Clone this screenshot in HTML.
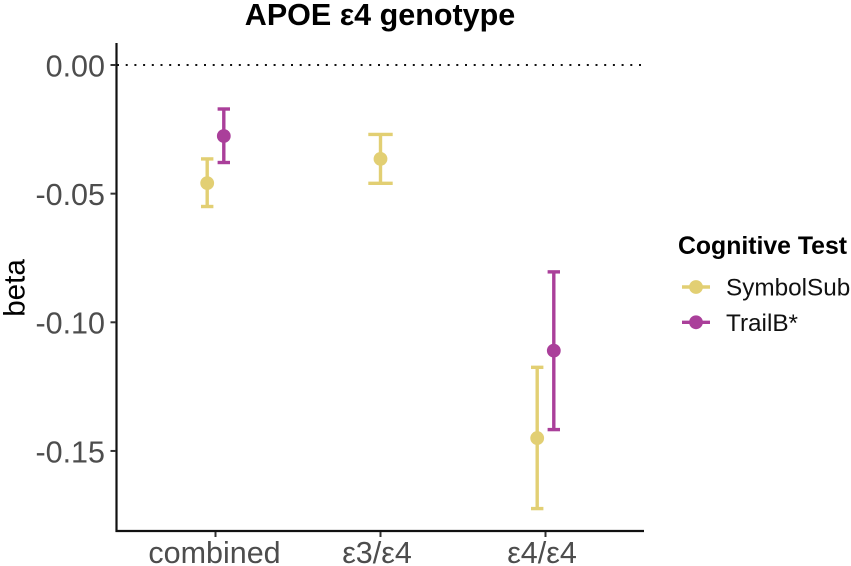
<!DOCTYPE html>
<html>
<head>
<meta charset="utf-8">
<style>
html,body{margin:0;padding:0;background:#fff;width:851px;height:566px;overflow:hidden}
svg{display:block}
text{font-family:"Liberation Sans",sans-serif}
</style>
</head>
<body>
<svg id="chart" width="851" height="566" viewBox="0 0 851 566" xmlns="http://www.w3.org/2000/svg">
<text x="380" y="25" font-size="30.5" font-weight="700" text-anchor="middle" fill="#000">APOE ε4 genotype</text>
<text transform="translate(24.5,288) rotate(-90)" font-size="29.6" text-anchor="middle" fill="#000">beta</text>
<text x="678" y="254" font-size="24.8" font-weight="700" fill="#000">Cognitive Test</text>
<g id="legend"></g>
<g id="plot"></g>
</svg>
<script>
const categories = ["combined", "ε3/ε4", "ε4/ε4"];
const yTicks = [0, -0.05, -0.10, -0.15];
const yTickLabels = ["0.00", "-0.05", "-0.10", "-0.15"];
const seriesNames = ["SymbolSub", "TrailB*"];
const symbolBeta = [-0.0459, -0.0365, -0.1450];
const symbolLow = [-0.0550, -0.0460, -0.1724];
const symbolHigh = [-0.0365, -0.0270, -0.1175];
const trailBeta = [-0.0276, null, -0.1110];
const trailLow = [-0.0379, null, -0.1417];
const trailHigh = [-0.0171, null, -0.0804];

const NS = "http://www.w3.org/2000/svg";
const plot = document.getElementById("plot");
const legend = document.getElementById("legend");
const COLORS = ["#e2cf73", "#aa3f9a"];

function yScale(v) { return 65 + (0 - v) * 2573; }
function xScale(i) { return 215.5 + i * 165; }

function mk(parent, tag, attrs) {
  const el = document.createElementNS(NS, tag);
  for (const k in attrs) el.setAttribute(k, attrs[k]);
  parent.appendChild(el);
  return el;
}

const refLine = mk(plot, "line", {x1: 117, x2: 642, y1: yScale(0), y2: yScale(0), stroke: "#111", "stroke-width": 2, "stroke-dasharray": "2 6.7"});



const yAxis = mk(plot, "line", {x1: 116.5, x2: 116.5, y1: 43, y2: 532, stroke: "#111", "stroke-width": 2.2});



const xAxis = mk(plot, "line", {x1: 115.5, x2: 644, y1: 531, y2: 531, stroke: "#111", "stroke-width": 2.2});



yTicks.forEach(function (t, i) {
  const tick = mk(plot, "line", {x1: 110.5, x2: 116, y1: yScale(t), y2: yScale(t), stroke: "#333", "stroke-width": 2});
  
  
  const label = mk(plot, "text", {x: 105, y: yScale(t) + 11.3, "font-size": 30.5, "text-anchor": "end", fill: "#4d4d4d"});
  
  
  label.textContent = yTickLabels[i];
});

categories.forEach(function (c, i) {
  const tick = mk(plot, "line", {x1: xScale(i), x2: xScale(i), y1: 532, y2: 537, stroke: "#333", "stroke-width": 2});
  
  
  const nudge = c.charAt(0) === "ε" ? -3.5 : -1;
  const label = mk(plot, "text", {x: xScale(i) + nudge, y: 563, "font-size": 30.5, "text-anchor": "middle", fill: "#4d4d4d"});
  
  
  label.textContent = c;
});

function drawMark(i, beta, low, high, color, offset, capHalf) {
  const x = xScale(i) + offset;
  const g = mk(plot, "g", {});
  
  
  mk(g, "line", {x1: x, x2: x, y1: yScale(high), y2: yScale(low), stroke: color, "stroke-width": 3.4});
  mk(g, "line", {x1: x - capHalf, x2: x + capHalf, y1: yScale(high), y2: yScale(high), stroke: color, "stroke-width": 3.4});
  mk(g, "line", {x1: x - capHalf, x2: x + capHalf, y1: yScale(low), y2: yScale(low), stroke: color, "stroke-width": 3.4});
  mk(g, "circle", {cx: x, cy: yScale(beta), r: 6.9, fill: color});
}

categories.forEach(function (c, i) {
  const paired = trailBeta[i] !== null;
  const offset = paired ? 8.3 : 0;
  const capHalf = paired ? 6.2 : 12.2;
  drawMark(i, symbolBeta[i], symbolLow[i], symbolHigh[i], COLORS[0], -offset, capHalf);
  if (paired) {
    drawMark(i, trailBeta[i], trailLow[i], trailHigh[i], COLORS[1], offset, capHalf);
  }
});

seriesNames.forEach(function (name, i) {
  const y = 287 + i * 35.3;
  const g = mk(legend, "g", {});
  
  
  mk(g, "line", {x1: 682, x2: 710, y1: y, y2: y, stroke: COLORS[i], "stroke-width": 3.4});
  mk(g, "circle", {cx: 696, cy: y, r: 6.9, fill: COLORS[i]});
  const label = mk(g, "text", {x: 726, y: y + 8.7, "font-size": 24.3, fill: "#111"});
  label.textContent = name;
});
</script>
</body>
</html>
